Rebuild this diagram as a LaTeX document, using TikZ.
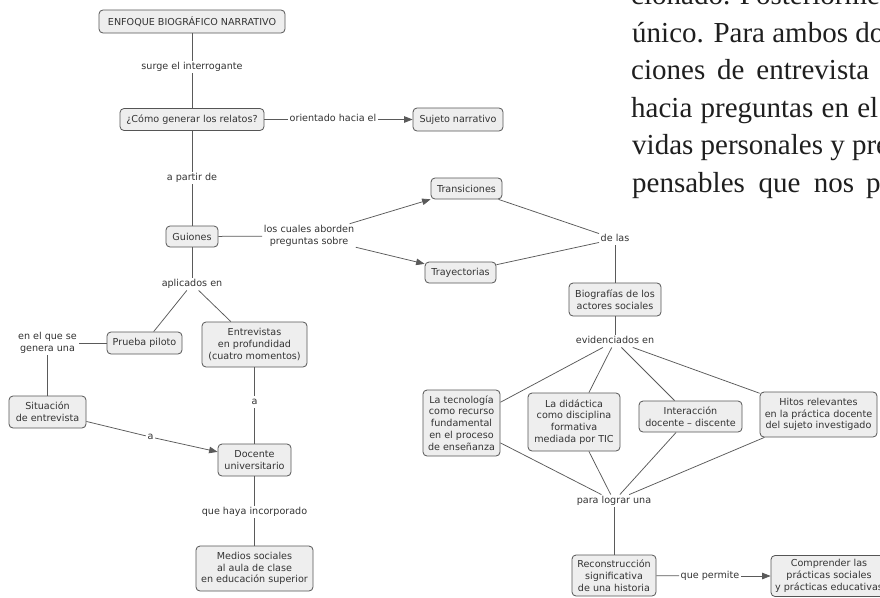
\documentclass[tikz,border=0pt]{standalone}
\usepackage{fontspec}
\newfontfamily\diagfont{DejaVu Sans}
\newfontfamily\bookfont{Liberation Serif}
\usetikzlibrary{arrows.meta}
\definecolor{boxfill}{HTML}{EEEEEE}
\definecolor{boxline}{HTML}{555555}
\definecolor{txt}{HTML}{333333}
\definecolor{connc}{HTML}{5A5A5A}
\begin{document}
\begin{tikzpicture}[x=1pt,y=-1pt,
  concept/.style={draw=boxline, line width=0.8pt, fill=boxfill, rounded corners=4pt,
    align=center, inner sep=1pt, text=txt, font=\diagfont\fontsize{9.6}{11.8}\selectfont},
  linklabel/.style={inner sep=1.5pt, align=center, text=txt,
    font=\diagfont\fontsize{9.6}{11.8}\selectfont, text height=7.2pt, text depth=2.3pt},
  linklabeltwo/.style={inner sep=1.5pt, align=center, text=txt,
    font=\diagfont\fontsize{9.6}{11.8}\selectfont},
  conn/.style={draw=connc, line width=0.75pt},
  arr/.style={conn, -{Triangle[length=8.5pt,width=6.5pt]}},
  booktext/.style={anchor=base west, inner sep=0pt, text=black!88,
    font=\bookfont\fontsize{29}{37}\selectfont}
]
\useasboundingbox (0,0) rectangle (880,597);
\clip (0,0) rectangle (880,597);
\fill[white] (0,0) rectangle (880,597);

% book text (top right)
\node[booktext] (b1) at (631,4.5) {cionado. Posteriorme};
\node[booktext] (b2) at (632,42) {único. Para ambos do};
\node[booktext] (b3) at (631,79.5) {\makebox[238pt][s]{ciones de entrevista}};
\node[booktext] (b4) at (631,117) {\makebox[247pt][s]{hacia preguntas en el}};
\node[booktext] (b5) at (632,154.5) {vidas personales y pre};
\node[booktext] (b6) at (632,192) {\makebox[222pt][s]{pensables que nos}\hspace{12pt}p};

% concepts
\node[concept, minimum width=186pt, minimum height=23pt] (enfoque) at (192,21.5) {ENFOQUE BIOGRÁFICO NARRATIVO};
\node[concept, minimum width=144pt, minimum height=22pt] (como) at (192,119.5) {¿Cómo generar los relatos?};
\node[concept, minimum width=90pt, minimum height=23pt] (sujeto) at (458,119.5) {Sujeto narrativo};
\node[concept, minimum width=52pt, minimum height=21pt] (guiones) at (192,236.5) {Guiones};
\node[concept, minimum width=71pt, minimum height=21pt] (transiciones) at (466.5,188.5) {Transiciones};
\node[concept, minimum width=71pt, minimum height=21pt] (trayectorias) at (460.5,272.5) {Trayectorias};
\node[concept, minimum width=92pt, minimum height=33pt] (biografias) at (615,299.5) {Biografías de los\\actores sociales};
\node[concept, minimum width=77pt, minimum height=66pt] (tecnologia) at (461.5,423) {La tecnología\\como recurso\\fundamental\\en el proceso\\de enseñanza};
\node[concept, minimum width=92pt, minimum height=58pt] (didactica) at (574,422) {La didáctica\\como disciplina\\formativa\\mediada por TIC};
\node[concept, minimum width=103pt, minimum height=31pt] (interaccion) at (690.5,416.5) {Interacción\\docente – discente};
\node[concept, minimum width=117pt, minimum height=45pt] (hitos) at (818.5,414.5) {Hitos relevantes\\en la práctica docente\\del sujeto investigado};
\node[concept, minimum width=84pt, minimum height=41pt] (reconstruccion) at (614,575.5) {Reconstrucción\\significativa\\de una historia};
\node[concept, minimum width=116pt, minimum height=41pt] (comprender) at (829,576) {Comprender las\\prácticas sociales\\y prácticas educativas};
\node[concept, minimum width=75pt, minimum height=22pt] (prueba) at (144.5,343) {Prueba piloto};
\node[concept, minimum width=105pt, minimum height=45pt] (entrevistas) at (254.5,344.5) {Entrevistas\\en profundidad\\(cuatro momentos)};
\node[concept, minimum width=77pt, minimum height=32pt] (situacion) at (47.5,412) {Situación\\de entrevista};
\node[concept, minimum width=73pt, minimum height=32pt] (docente) at (254.5,460) {Docente\\universitario};
\node[concept, minimum width=117pt, minimum height=45pt] (medios) at (254.5,568.5) {Medios sociales\\al aula de clase\\en educación superior};

% link labels
\node[linklabel] (surge) at (192,67) {surge el interrogante};
\node[linklabel] (orientado) at (333,119.5) {orientado hacia el};
\node[linklabel] (apartir) at (192,178) {a partir de};
\node[linklabeltwo] (loscuales) at (309,236) {los cuales aborden\\preguntas sobre};
\node[linklabel] (aplicados) at (192,284) {aplicados en};
\node[linklabel] (delas) at (615,239) {de las};
\node[linklabel] (evidenciados) at (615,341) {evidenciados en};
\node[linklabel] (paralograr) at (614,501) {para lograr una};
\node[linklabel] (quepermite) at (710,576) {que permite};
\node[linklabeltwo] (enelque) at (47.5,343) {en el que se\\genera una};
\node[linklabel] (a1) at (150.5,437) {a};
\node[linklabel] (a2) at (254.5,402) {a};
\node[linklabel] (quehaya) at (254.5,512) {que haya incorporado};

% connectors
\draw[conn] (enfoque) -- (surge);
\draw[conn] (surge) -- (como);
\draw[conn] (como) -- (orientado);
\draw[arr] (orientado) -- (sujeto);
\draw[conn] (como) -- (apartir);
\draw[conn] (apartir) -- (guiones);
\draw[conn] (guiones) -- (loscuales);
\draw[arr] (loscuales) -- (transiciones);
\draw[arr] (loscuales) -- (trayectorias);
\draw[conn] (transiciones) -- (delas);
\draw[conn] (trayectorias) -- (delas);
\draw[conn] (delas) -- (biografias);
\draw[conn] (biografias) -- (evidenciados);
\draw[conn] (evidenciados) -- (tecnologia);
\draw[conn] (evidenciados) -- (didactica);
\draw[conn] (evidenciados) -- (interaccion);
\draw[conn] (evidenciados) -- (hitos);
\draw[conn] (tecnologia) -- (paralograr);
\draw[conn] (didactica) -- (paralograr);
\draw[conn] (interaccion) -- (paralograr);
\draw[conn] (hitos) -- (paralograr);
\draw[conn] (paralograr) -- (reconstruccion);
\draw[conn] (reconstruccion) -- (quepermite);
\draw[arr] (quepermite) -- (comprender);
\draw[conn] (guiones) -- (aplicados);
\draw[conn] (aplicados) -- (prueba);
\draw[conn] (aplicados) -- (entrevistas);
\draw[conn] (prueba) -- (enelque);
\draw[conn] (enelque) -- (situacion);
\draw[conn] (situacion) -- (a1);
\draw[arr] (a1) -- (docente);
\draw[conn] (entrevistas) -- (a2);
\draw[conn] (a2) -- (docente);
\draw[conn] (docente) -- (quehaya);
\draw[conn] (quehaya) -- (medios);
\end{tikzpicture}
\end{document}
